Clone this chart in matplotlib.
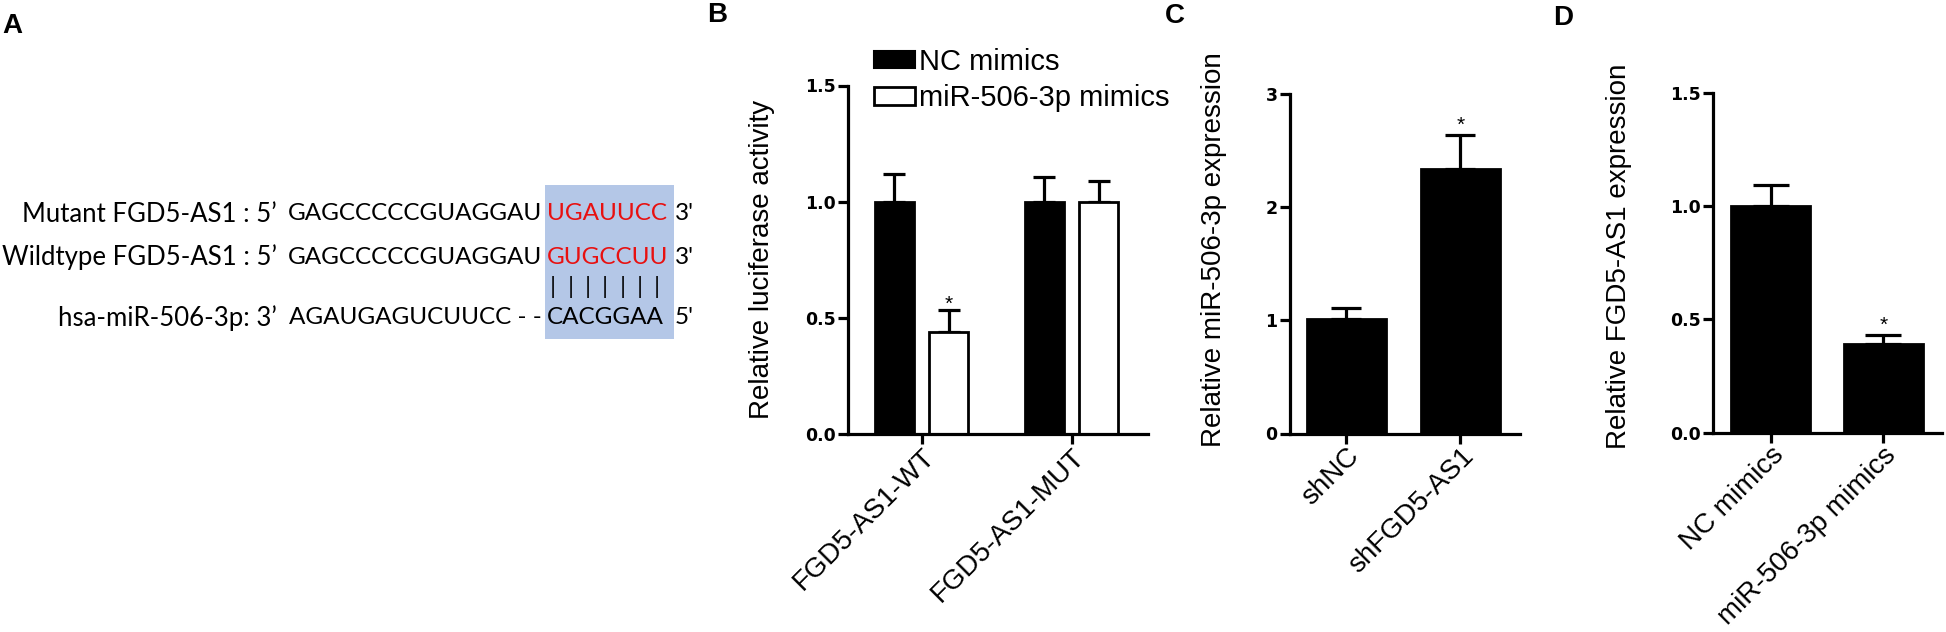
import numpy as np
import matplotlib
matplotlib.use('Agg')
from matplotlib import pyplot as plt
from matplotlib.patches import Patch, Rectangle

W, H = 1946, 632

# panel A: sequence alignment
seq_labels = ['Mutant FGD5-AS1 : 5\u2019', 'Wildtype FGD5-AS1 : 5\u2019', 'hsa-miR-506-3p: 3\u2019']
seq_black = ['GAGCCCCCGUAGGAU', 'GAGCCCCCGUAGGAU', 'AGAUGAGUCUUCC - -']
seq_site = ['UGAUUCC', 'GUGCCUU', 'CACGGAA']
site_colors = ['#e81010', '#e81010', 'black']
seq_end = ["3'", "3'", "5'"]

# panel B: luciferase
b_groups = ['FGD5-AS1-WT', 'FGD5-AS1-MUT']
b_nc = [1.0, 1.0]
b_nc_err = [0.12, 0.105]
b_mir = [0.44, 1.0]
b_mir_err = [0.095, 0.09]
b_mir_star = ['*', '']

# panel C
c_groups = ['shNC', 'shFGD5-AS1']
c_vals = [1.01, 2.34]
c_err = [0.10, 0.30]
c_star = ['', '*']

# panel D
d_groups = ['NC mimics', 'miR-506-3p mimics']
d_vals = [1.0, 0.39]
d_err = [0.095, 0.04]
d_star = ['', '*']

plt.rcParams['font.family'] = ['Liberation Sans', 'DejaVu Sans']

fig = plt.figure(figsize=(W / 100, H / 100), dpi=100)

# overlay in pixel coords for panel A and the letters
ov = fig.add_axes([0, 0, 1, 1])
ov.set_xlim(0, W)
ov.set_ylim(H, 0)
ov.axis('off')

ov.add_patch(Rectangle((545, 185), 129, 154, facecolor='#b4c7e7', edgecolor='none', zorder=0))
row_y = [214, 257, 318]
seq_font = ['Lato', 'DejaVu Sans']
fs = 17.5
for i in range(3):
    y = row_y[i]
    ov.text(277, y, seq_labels[i], ha='right', va='center', fontsize=18.5, family=seq_font)
    ov.text(542, y, seq_black[i], ha='right', va='center', fontsize=fs, family=seq_font)
    ov.text(547, y, seq_site[i], ha='left', va='center', fontsize=fs, family=seq_font,
            color=site_colors[i])
    ov.text(675, y, seq_end[i], ha='left', va='center', fontsize=fs, family=seq_font)
for px in np.linspace(553, 657, 7):
    ov.text(px, 287, '|', ha='center', va='center', fontsize=fs, family=seq_font)

for lab, lx, ly in [('A', 12, 13), ('B', 717, 2), ('C', 1175, 3), ('D', 1563, 5)]:
    ov.text(lx, ly, lab, ha='center', va='top', fontsize=20, fontweight='bold')


def px_rect(left, right, top, bottom):
    return [left / W, 1 - bottom / H, (right - left) / W, (bottom - top) / H]


def style(ax, yticks, ylabels, ylim, xlim, xpos, groups, ylabel, lab_xy):
    for s in ['top', 'right']:
        ax.spines[s].set_visible(False)
    for s in ['left', 'bottom']:
        ax.spines[s].set_linewidth(2.3)
    ax.set_ylim(*ylim)
    ax.set_xlim(*xlim)
    ax.set_yticks(yticks)
    ax.set_yticklabels(ylabels, fontweight='bold', family='DejaVu Sans', fontsize=12.5)
    ax.tick_params(axis='y', length=7, width=2.3, pad=2)
    ax.tick_params(axis='x', length=7, width=2.3, pad=0)
    ax.set_xticks(xpos)
    ax.set_xticklabels(groups, rotation=45, ha='right', rotation_mode='anchor', fontsize=20)
    ax.set_ylabel(ylabel, fontsize=20)
    ax.yaxis.set_label_coords(*lab_xy)
    ax.patch.set_alpha(0)


def stars(ax, xs, tops, marks, dy):
    for x, t, m in zip(xs, tops, marks):
        if m:
            ax.annotate(m, xy=(x, t), xytext=(0, dy), textcoords='offset points',
                        ha='center', va='baseline', fontsize=15)


# ---- panel B ----
axB = fig.add_axes(px_rect(848, 1148, 85.5, 434))
xb = np.arange(len(b_groups))
off, wb = 0.183, 0.26
axB.bar(xb - off, b_nc, wb, color='black', edgecolor='black', linewidth=2, zorder=2)
axB.bar(xb + off, b_mir, wb, color='white', edgecolor='black', linewidth=2, zorder=2)
axB.errorbar(xb - off, b_nc, yerr=[np.zeros(2), b_nc_err], fmt='none', ecolor='black',
             elinewidth=2.3, capsize=8, capthick=2.3, zorder=1.5)
axB.errorbar(xb + off, b_mir, yerr=[np.zeros(2), b_mir_err], fmt='none', ecolor='black',
             elinewidth=2.3, capsize=8, capthick=2.3, zorder=1.5)
stars(axB, xb + off, np.array(b_mir) + np.array(b_mir_err), b_mir_star, 0)
style(axB, [0, 0.5, 1.0, 1.5], ['0.0', '0.5', '1.0', '1.5'], (0, 1.5), (-0.49, 1.51),
      xb, b_groups, 'Relative luciferase activity', (-0.243, 0.5))
handles = [Patch(facecolor='black', edgecolor='black', linewidth=1.5),
           Patch(facecolor='white', edgecolor='black', linewidth=2)]
axB.legend(handles, ['NC mimics', 'miR-506-3p mimics'], loc='upper left',
           bbox_to_anchor=(874 / W, 1 - 48 / H), bbox_transform=fig.transFigure,
           frameon=False, fontsize=21, handlelength=1.4, handleheight=0.55,
           handletextpad=0.15, labelspacing=0.28, borderpad=0, borderaxespad=0)

# ---- panel C ----
axC = fig.add_axes(px_rect(1290, 1520, 94, 433.5))
xc = np.arange(len(c_groups))
axC.bar(xc, c_vals, 0.69, color='black', edgecolor='black', linewidth=2, zorder=2)
axC.errorbar(xc, c_vals, yerr=[np.zeros(2), c_err], fmt='none', ecolor='black',
             elinewidth=2.3, capsize=11, capthick=2.3, zorder=1.5)
stars(axC, xc, np.array(c_vals) + np.array(c_err), c_star, 3)
style(axC, [0, 1, 2, 3], ['0', '1', '2', '3'], (0, 3), (-0.49, 1.52),
      xc, c_groups, 'Relative miR-506-3p expression', (-0.274, 0.543))

# ---- panel D ----
axD = fig.add_axes(px_rect(1713, 1942, 92.7, 432.7))
xd = np.arange(len(d_groups))
axD.bar(xd, d_vals, 0.70, color='black', edgecolor='black', linewidth=2, zorder=2)
axD.errorbar(xd, d_vals, yerr=[np.zeros(2), d_err], fmt='none', ecolor='black',
             elinewidth=2.3, capsize=13, capthick=2.3, zorder=1.5)
stars(axD, xd, np.array(d_vals) + np.array(d_err), d_star, 3)
style(axD, [0, 0.5, 1.0, 1.5], ['0.0', '0.5', '1.0', '1.5'], (0, 1.5), (-0.51, 1.52),
      xd, d_groups, 'Relative FGD5-AS1 expression', (-0.354, 0.52))

fig.savefig('out.png', dpi=100)
